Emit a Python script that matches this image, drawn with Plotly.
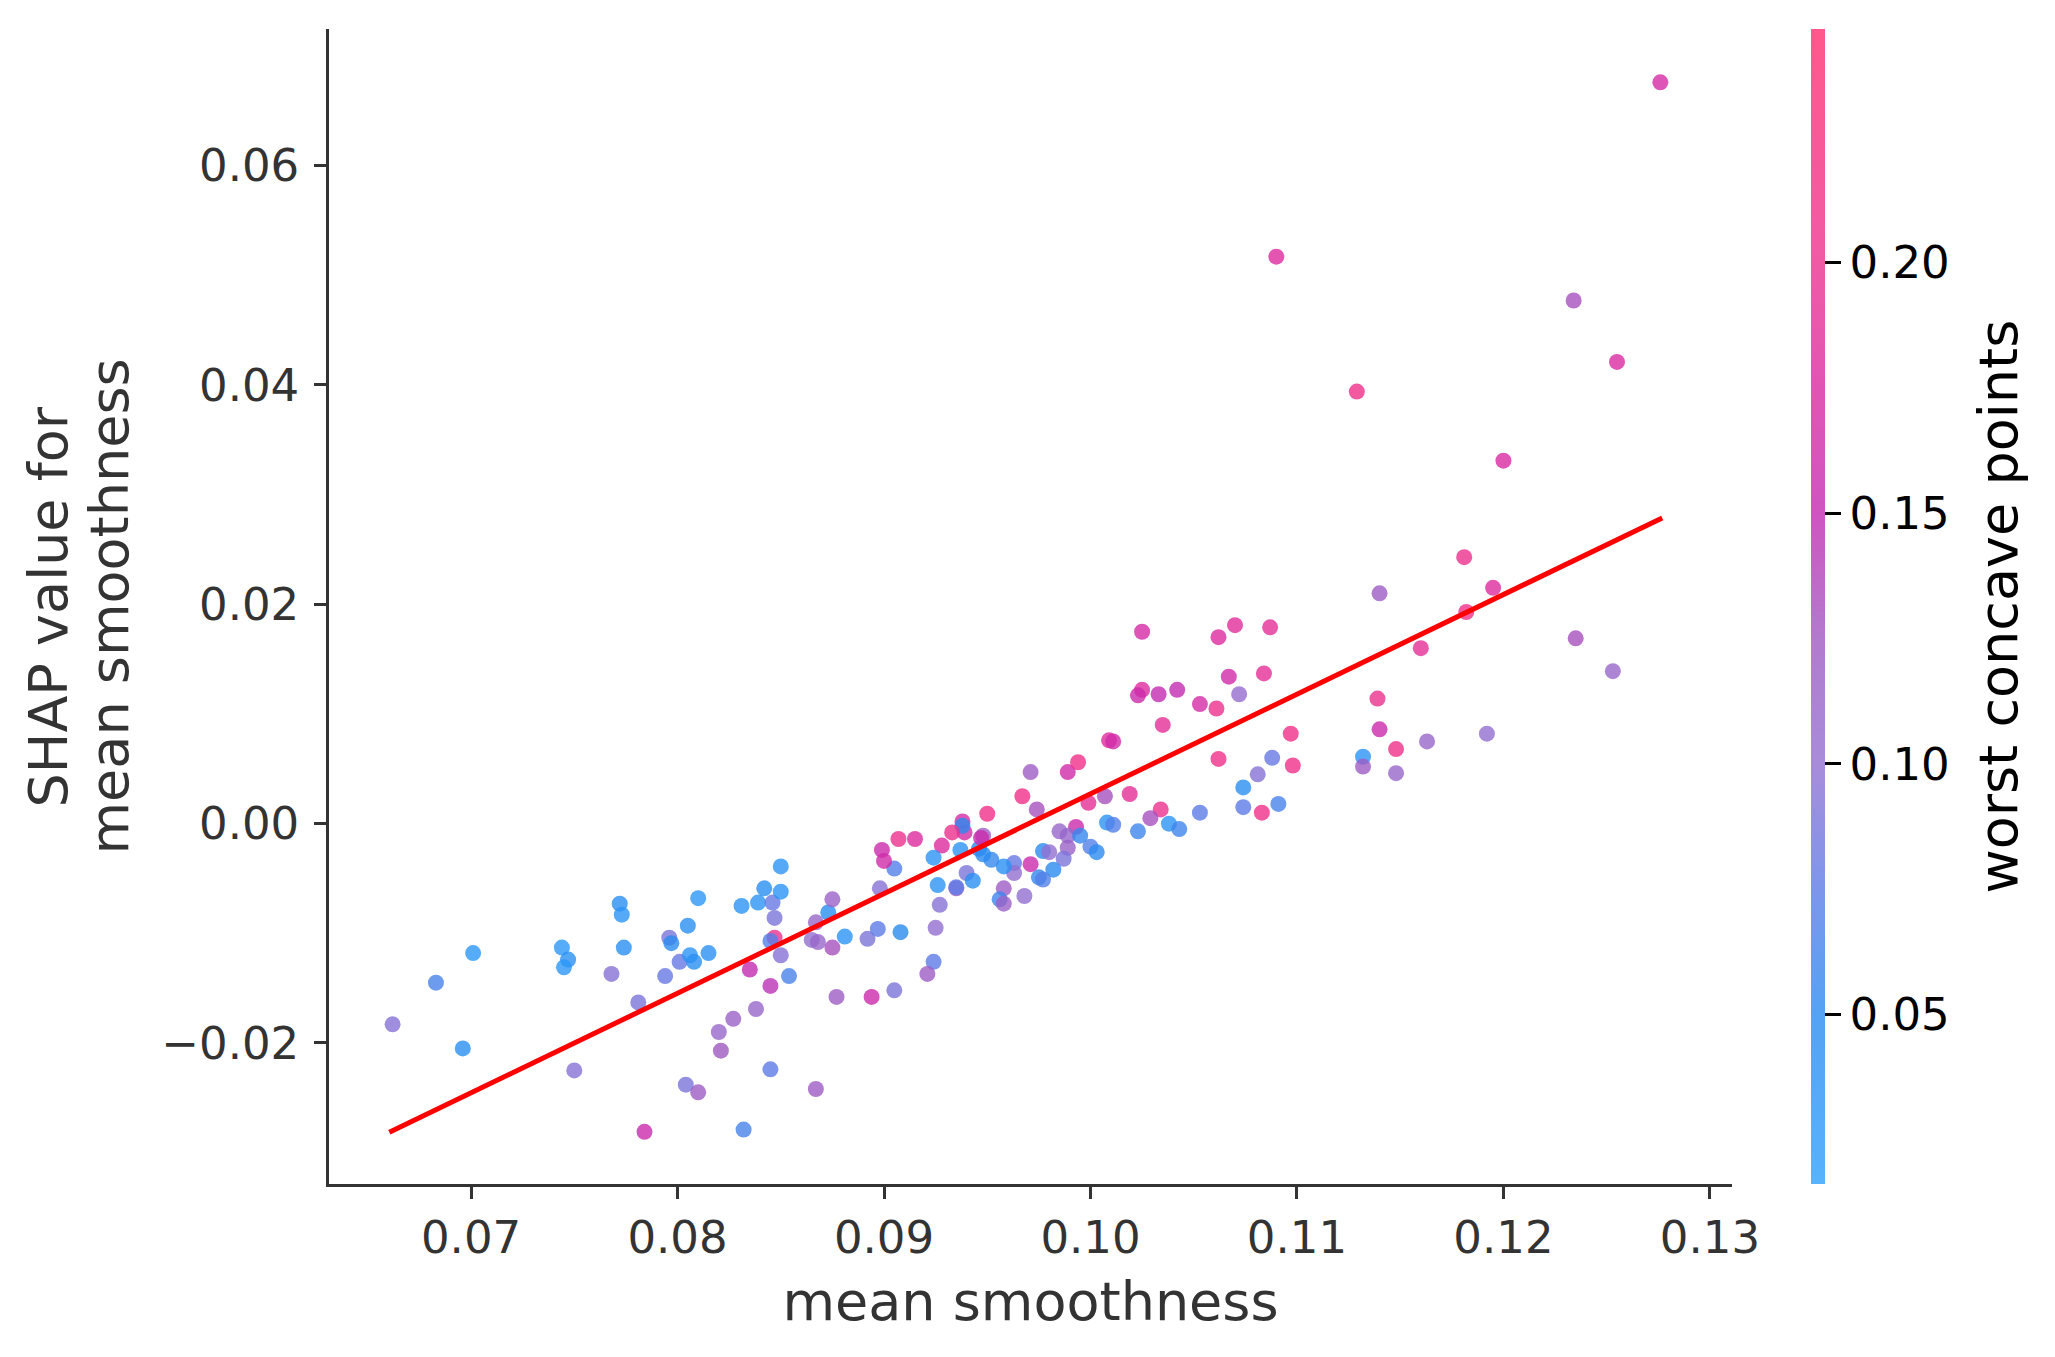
import plotly.graph_objects as go

# ---- data ----
mean_smoothness = [
    0.0662, 0.0683, 0.0701, 0.0696, 0.0744, 0.0747, 0.0745, 0.0750, 0.0772, 0.0773,
    0.0774, 0.0768, 0.0781, 0.0784, 0.0794, 0.0796, 0.0797, 0.0805, 0.0810, 0.0801,
    0.0806, 0.0808, 0.0815, 0.0804, 0.0810, 0.0820, 0.0821, 0.0827, 0.0835, 0.0831,
    0.0839, 0.0842, 0.0846, 0.0847, 0.0845, 0.0838, 0.0845, 0.0832, 0.0847, 0.0845,
    0.0850, 0.0850, 0.0850,
    0.0971, 0.0989, 0.0994, 0.0967, 0.0974, 0.1007, 0.1019, 0.0999, 0.1034, 0.1029,
    0.1053, 0.1038, 0.1043, 0.1023, 0.1008, 0.1011, 0.0985, 0.0993, 0.0989, 0.0995,
    0.0989, 0.1000, 0.1003, 0.0987, 0.0982, 0.0977, 0.0980, 0.0975, 0.0977, 0.0971,
    0.0963, 0.0963, 0.0958, 0.0958, 0.0956, 0.0958, 0.0968, 0.0952, 0.0948, 0.0946,
    0.0948, 0.0947, 0.0950, 0.0939, 0.0938, 0.0938, 0.0933, 0.0928, 0.0937, 0.0940,
    0.0943, 0.0935, 0.0935, 0.0924, 0.0926, 0.0927, 0.0925, 0.0924, 0.0921, 0.0905,
    0.0894, 0.0877, 0.0867, 0.0854, 0.0867, 0.0865, 0.0868, 0.0875, 0.0873, 0.0875,
    0.0881, 0.0892, 0.0897, 0.0908, 0.0898, 0.0905, 0.0899, 0.0900, 0.0907, 0.0915,
    0.1025, 0.1025, 0.1023, 0.1033, 0.1042, 0.1053, 0.1035, 0.1009, 0.1011, 0.1061,
    0.1067, 0.1062, 0.1070, 0.1087, 0.1084, 0.1072, 0.1062, 0.1097, 0.1088, 0.1081,
    0.1098, 0.1074, 0.1074, 0.1083, 0.1091,
    0.1139, 0.1140, 0.1132, 0.1132, 0.1148, 0.1148, 0.1163, 0.1192, 0.1140, 0.1160,
    0.1181, 0.1195, 0.1182, 0.1235, 0.1200, 0.1253,
    0.1276, 0.1234, 0.1255, 0.1129, 0.1090,
]
shap_values = [
    -0.0183, -0.0145, -0.0118, -0.0205, -0.0113, -0.0124, -0.0131, -0.0225, -0.0073, -0.0083,
    -0.0113, -0.0137, -0.0163, -0.0281, -0.0139, -0.0104, -0.0109, -0.0093, -0.0068, -0.0126,
    -0.0120, -0.0126, -0.0118, -0.0238, -0.0245, -0.0190, -0.0207, -0.0178, -0.0133, -0.0075,
    -0.0072, -0.0059, -0.0072, -0.0086, -0.0148, -0.0169, -0.0224, -0.0279, -0.0104, -0.0107,
    -0.0039, -0.0062, -0.0120,
    0.0047, 0.0047, 0.0056, 0.0025, 0.0013, 0.0025, 0.0027, 0.0019, 0.0013, 0.0005,
    0.0010, 0.0000, -0.0005, -0.0007, 0.0001, -0.0001, -0.0007, -0.0003, -0.0011, -0.0011,
    -0.0022, -0.0021, -0.0026, -0.0032, -0.0042, -0.0025, -0.0026, -0.0049, -0.0051, -0.0037,
    -0.0036, -0.0045, -0.0039, -0.0059, -0.0069, -0.0073, -0.0066, -0.0033, -0.0028, -0.0023,
    -0.0011, -0.0013, 0.0009, -0.0008, 0.0002, -0.0002, -0.0008, -0.0020, -0.0024, -0.0045,
    -0.0052, -0.0059, -0.0058, -0.0031, -0.0056, -0.0074, -0.0095, -0.0126, -0.0137, -0.0152,
    -0.0158, -0.0158, -0.0242, -0.0139, -0.0090, -0.0106, -0.0108, -0.0113, -0.0081, -0.0069,
    -0.0103, -0.0105, -0.0096, -0.0099, -0.0059, -0.0041, -0.0024, -0.0034, -0.0014, -0.0014,
    0.0175, 0.0122, 0.0117, 0.0118, 0.0122, 0.0109, 0.0090, 0.0076, 0.0075, 0.0105,
    0.0134, 0.0170, 0.0181, 0.0179, 0.0137, 0.0118, 0.0059, 0.0082, 0.0060, 0.0045,
    0.0053, 0.0033, 0.0015, 0.0010, 0.0018,
    0.0114, 0.0086, 0.0061, 0.0052, 0.0068, 0.0046, 0.0075, 0.0082, 0.0210, 0.0160,
    0.0243, 0.0215, 0.0193, 0.0169, 0.0331, 0.0139,
    0.0676, 0.0477, 0.0421, 0.0394, 0.0517,
]
worst_concave_points = [
    0.095, 0.065, 0.030, 0.045, 0.030, 0.040, 0.030, 0.095, 0.045, 0.035,
    0.045, 0.095, 0.090, 0.160, 0.080, 0.090, 0.050, 0.045, 0.030, 0.080,
    0.035, 0.045, 0.040, 0.090, 0.120, 0.110, 0.125, 0.115, 0.150, 0.035,
    0.035, 0.045, 0.080, 0.090, 0.145, 0.110, 0.075, 0.065, 0.200, 0.070,
    0.035, 0.035, 0.095,
    0.120, 0.165, 0.210, 0.210, 0.130, 0.130, 0.190, 0.190, 0.200, 0.130,
    0.075, 0.035, 0.060, 0.060, 0.035, 0.070, 0.110, 0.160, 0.110, 0.055,
    0.115, 0.070, 0.050, 0.090, 0.050, 0.050, 0.100, 0.055, 0.070, 0.160,
    0.080, 0.100, 0.040, 0.120, 0.060, 0.115, 0.100, 0.055, 0.050, 0.050,
    0.120, 0.160, 0.210, 0.170, 0.170, 0.050, 0.200, 0.180, 0.035, 0.090,
    0.045, 0.120, 0.075, 0.035, 0.035, 0.095, 0.100, 0.075, 0.120, 0.090,
    0.160, 0.120, 0.120, 0.065, 0.110, 0.100, 0.110, 0.130, 0.045, 0.115,
    0.035, 0.090, 0.075, 0.050, 0.095, 0.070, 0.160, 0.165, 0.200, 0.180,
    0.170, 0.180, 0.160, 0.150, 0.150, 0.170, 0.190, 0.180, 0.165, 0.200,
    0.165, 0.180, 0.185, 0.190, 0.190, 0.105, 0.210, 0.210, 0.080, 0.095,
    0.210, 0.045, 0.075, 0.210, 0.065,
    0.200, 0.160, 0.035, 0.120, 0.210, 0.110, 0.110, 0.100, 0.120, 0.190,
    0.200, 0.180, 0.210, 0.130, 0.175, 0.110,
    0.170, 0.130, 0.175, 0.210, 0.180,
]

# linear fit line (end points)
fit_x = [0.06604, 0.12769]
fit_y = [-0.02815, 0.02788]

x_ticks = [0.07, 0.08, 0.09, 0.10, 0.11, 0.12, 0.13]
x_ticktext = ["0.07", "0.08", "0.09", "0.10", "0.11", "0.12", "0.13"]
y_ticks = [-0.02, 0.00, 0.02, 0.04, 0.06]
y_ticktext = ["\u22120.02", "0.00", "0.02", "0.04", "0.06"]
c_ticks = [0.05, 0.10, 0.15, 0.20]
c_ticktext = ["0.05", "0.10", "0.15", "0.20"]

x_title = "mean smoothness"
y_title_lines = ["SHAP value for", "mean smoothness"]
c_title = "worst concave points"

# ---- styling ----
FONT = "DejaVu Sans"
colorscale = [
    [0.000, "rgba(46,159,251,0.8)"],
    [0.147, "rgba(42,139,240,0.8)"],
    [0.255, "rgba(92,124,230,0.8)"],
    [0.364, "rgba(146,111,209,0.8)"],
    [0.472, "rgba(159,89,193,0.8)"],
    [0.581, "rgba(195,42,178,0.8)"],
    [0.689, "rgba(217,42,161,0.8)"],
    [0.798, "rgba(236,49,143,0.8)"],
    [1.000, "rgba(255,46,111,0.8)"],
]

fig = go.Figure()
fig.add_trace(go.Scatter(
    x=mean_smoothness, y=shap_values, mode="markers",
    marker=dict(
        size=16, color=worst_concave_points, colorscale=colorscale,
        cmin=0.0162, cmax=0.2466, line=dict(width=0),
        colorbar=dict(
            x=1.0563, xanchor="left", xpad=0, ypad=0, y=0.5, yanchor="middle",
            len=1.0, lenmode="fraction", thickness=14, outlinewidth=0,
            ticks="outside", ticklen=16, tickwidth=2.5, tickcolor="black",
            tickvals=c_ticks, ticktext=c_ticktext,
            tickfont=dict(family=FONT, size=45, color="black"),
        ),
    ),
    showlegend=False, hoverinfo="skip",
))
fig.add_trace(go.Scatter(
    x=fit_x, y=fit_y, mode="lines",
    line=dict(color="#ff0000", width=5), showlegend=False,
))

axis_common = dict(
    showline=True, linecolor="#333333", linewidth=2.5, mirror=False,
    ticks="outside", ticklen=12, tickwidth=2.5, tickcolor="#333333",
    showgrid=False, zeroline=False, automargin=False,
    tickfont=dict(family=FONT, size=45, color="#333333"),
)
# the page body keeps an 8px default margin, so the figure is 8px smaller
fig.update_layout(
    width=2047, height=1349,
    margin=dict(l=321, r=323, t=21, b=173),
    paper_bgcolor="white", plot_bgcolor="white",
    font=dict(family=FONT, color="#333333"),
    xaxis=dict(range=[0.06312, 0.13107], tickvals=x_ticks, ticktext=x_ticktext,
               title=dict(text=x_title, standoff=20,
                          font=dict(family=FONT, size=54, color="#333333")),
               **axis_common),
    yaxis=dict(range=[-0.03286, 0.07246], tickvals=y_ticks, ticktext=y_ticktext,
               ticklabelstandoff=6,
               **axis_common),
    annotations=[
        dict(text=y_title_lines[0], textangle=-90, xref="paper", yref="paper",
             x=-0.1996, y=0.5, xanchor="center", yanchor="middle", showarrow=False,
             font=dict(family=FONT, size=54, color="#333333")),
        dict(text=y_title_lines[1], textangle=-90, xref="paper", yref="paper",
             x=-0.1568, y=0.5, xanchor="center", yanchor="middle", showarrow=False,
             font=dict(family=FONT, size=54, color="#333333")),
        dict(text=c_title, textangle=-90, xref="paper", yref="paper",
             x=1.1903, y=0.5, xanchor="center", yanchor="middle", showarrow=False,
             font=dict(family=FONT, size=54, color="black")),
    ],
)

fig.write_html("out.html")
